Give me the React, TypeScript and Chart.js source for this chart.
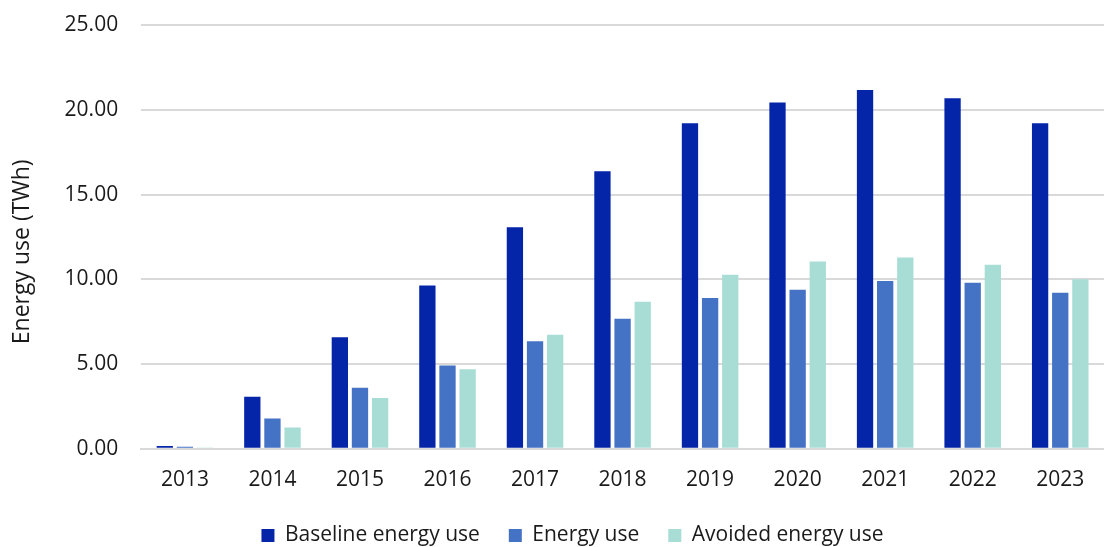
import React, { useEffect, useRef } from "react";
import { Chart, registerables } from "chart.js";

Chart.register(...registerables);

const categories = ["2013", "2014", "2015", "2016", "2017", "2018", "2019", "2020", "2021", "2022", "2023"];
const baselineEnergyUse = [0.16, 3.07, 6.58, 9.63, 13.07, 16.38, 19.2, 20.43, 21.17, 20.68, 19.2];
const energyUse = [0.12, 1.79, 3.6, 4.92, 6.34, 7.67, 8.89, 9.38, 9.9, 9.79, 9.2];
const avoidedEnergyUse = [0.04, 1.26, 3.0, 4.69, 6.73, 8.68, 10.27, 11.05, 11.28, 10.86, 10.0];
const seriesNames = ["Baseline energy use", "Energy use", "Avoided energy use"];
const seriesColors = ["#0525A9", "#4472C4", "#A8DDD5"];
const yTicks = [0, 5, 10, 15, 20, 25];
const yTitle = "Energy use (TWh)";

const FONT = "'Open Sans', 'Noto Sans', sans-serif";
const FS = 21;
const TITLE_FS = 23;
const LEGEND_NUDGE_Y = 16;
const LEGEND_NUDGE_X = 14;

const legendNudge = {
  id: "legendNudge",
  afterLayout(chart: any) {
    const lg = chart.legend;
    if (lg) {
      lg.top -= LEGEND_NUDGE_Y;
      lg.bottom -= LEGEND_NUDGE_Y;
      lg.left += LEGEND_NUDGE_X;
      lg.right += LEGEND_NUDGE_X;
    }
  },
};

export default function App() {
  const ref = useRef<HTMLCanvasElement | null>(null);

  useEffect(() => {
    document.body.style.margin = "0";
    const canvas = ref.current;
    if (!canvas) return;
    const seriesData = [baselineEnergyUse, energyUse, avoidedEnergyUse];
    const chart = new Chart(canvas, {
      type: "bar",
      data: {
        labels: categories,
        datasets: seriesNames.map((name, i) => ({
          label: name,
          data: seriesData[i],
          backgroundColor: seriesColors[i],
          borderWidth: 0,
          categoryPercentage: 0.69,
          barPercentage: 0.81,
        })),
      },
      plugins: [legendNudge],
      options: {
        responsive: false,
        animation: false,
        devicePixelRatio: 1,
        layout: { autoPadding: false, padding: { left: 4, right: -9, top: 25, bottom: -25 } },
        plugins: {
          tooltip: { enabled: false },
          legend: {
            position: "bottom",
            labels: {
              font: { family: FONT, size: FS },
              color: "#1a1a1a",
              boxWidth: 13,
              boxHeight: 13,
              padding: 29,
            },
          },
        },
        scales: {
          x: {
            grid: { display: false, drawTicks: false },
            border: { display: true, color: "#d9d9d9", width: 2 },
            ticks: { font: { family: FONT, size: FS }, color: "#1a1a1a", padding: 19 },
          },
          y: {
            min: 0,
            max: 25,
            afterBuildTicks: (axis: any) => {
              axis.ticks = yTicks.map((v) => ({ value: v }));
            },
            afterFit: (axis: any) => {
              axis.paddingTop = 0;
              axis.paddingBottom = 0;
            },
            grid: { color: "#d9d9d9", lineWidth: 2, drawTicks: false },
            border: { display: false },
            ticks: {
              font: { family: FONT, size: FS },
              color: "#1a1a1a",
              padding: 23,
              callback: (v: any) => Number(v).toFixed(2),
            },
            title: {
              display: true,
              text: yTitle + "     ",
              font: { family: FONT, size: TITLE_FS },
              color: "#1a1a1a",
              padding: { top: 5, bottom: 5 },
            },
          },
        },
      },
    });
    return () => chart.destroy();
  }, []);

  return <canvas ref={ref} width={1104} height={547} style={{ display: "block" }} />;
}
